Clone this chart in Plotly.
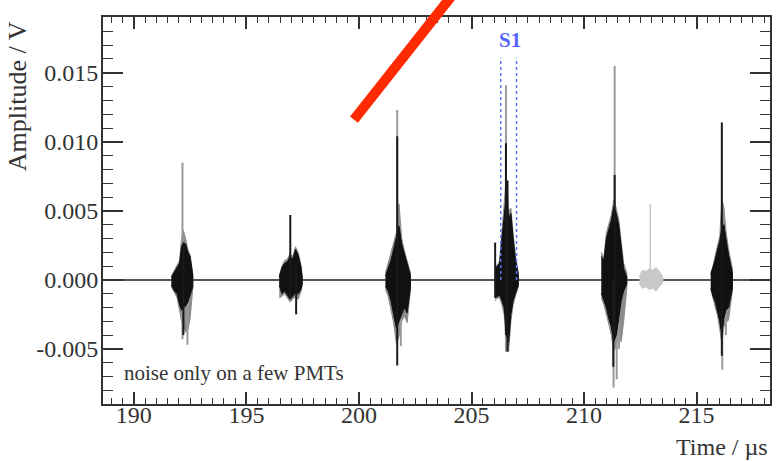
import plotly.graph_objects as go

# ---------------- data ----------------
# Each burst: sample times (µs), upper / lower envelope of the dense black trace (V),
# and upper / lower envelope of the lighter overlapping PMT traces (V).
b1_t   = [191.67, 191.80, 191.92, 192.03, 192.12, 192.20, 192.30, 192.40, 192.50, 192.62]
b1_hi  = [0.0002, 0.0006, 0.0009, 0.0012, 0.0024, 0.0027, 0.0026, 0.0020, 0.0017, 0.0003]
b1_lo  = [-0.0004, -0.0008, -0.0010, -0.0018, -0.0022, -0.0020, -0.0019, -0.0016, -0.0012, -0.0005]
b1_ghi = [0.0003, 0.0007, 0.0010, 0.0014, 0.0030, 0.0036, 0.0030, 0.0022, 0.0018, 0.0004]
b1_glo = [-0.0005, -0.0009, -0.0013, -0.0022, -0.0030, -0.0034, -0.0038, -0.0036, -0.0028, -0.0006]

b2_t   = [196.46, 196.58, 196.70, 196.82, 196.94, 197.06, 197.18, 197.30, 197.42, 197.48]
b2_hi  = [0.0002, 0.0009, 0.0012, 0.0013, 0.0017, 0.0015, 0.0022, 0.0018, 0.0010, 0.0002]
b2_lo  = [-0.0004, -0.0010, -0.0008, -0.0011, -0.0014, -0.0012, -0.0009, -0.0010, -0.0007, -0.0003]
b2_ghi = [0.0003, 0.0010, 0.0014, 0.0015, 0.0019, 0.0017, 0.0024, 0.0020, 0.0011, 0.0003]
b2_glo = [-0.0013, -0.0012, -0.0010, -0.0013, -0.0016, -0.0014, -0.0012, -0.0014, -0.0009, -0.0004]

b3_t   = [201.18, 201.30, 201.42, 201.54, 201.66, 201.78, 201.90, 202.02, 202.14, 202.29]
b3_hi  = [0.0003, 0.0009, 0.0014, 0.0022, 0.0030, 0.0039, 0.0026, 0.0018, 0.0012, 0.0003]
b3_lo  = [-0.0005, -0.0008, -0.0015, -0.0025, -0.0035, -0.0030, -0.0025, -0.0020, -0.0024, -0.0005]
b3_ghi = [0.0005, 0.0012, 0.0018, 0.0026, 0.0034, 0.0055, 0.0030, 0.0021, 0.0014, 0.0005]
b3_glo = [-0.0007, -0.0012, -0.0020, -0.0031, -0.0046, -0.0041, -0.0030, -0.0026, -0.0031, -0.0007]

b4_t   = [206.05, 206.15, 206.25, 206.35, 206.45, 206.55, 206.65, 206.75, 206.85, 206.95, 207.08]
b4_hi  = [0.0008, 0.0010, 0.0012, 0.0030, 0.0045, 0.0062, 0.0045, 0.0048, 0.0030, 0.0015, 0.0004]
b4_lo  = [-0.0013, -0.0012, -0.0011, -0.0015, -0.0020, -0.0040, -0.0045, -0.0025, -0.0015, -0.0010, -0.0004]
b4_ghi = [0.0010, 0.0011, 0.0014, 0.0035, 0.0050, 0.0075, 0.0050, 0.0052, 0.0034, 0.0018, 0.0005]
b4_glo = [-0.0015, -0.0013, -0.0013, -0.0018, -0.0025, -0.0048, -0.0052, -0.0030, -0.0018, -0.0012, -0.0005]

b5_t   = [210.77, 210.88, 210.99, 211.10, 211.21, 211.32, 211.43, 211.54, 211.65, 211.76, 211.90]
b5_hi  = [0.0017, 0.0014, 0.0030, 0.0036, 0.0043, 0.0053, 0.0048, 0.0040, 0.0022, 0.0008, 0.0002]
b5_lo  = [-0.0010, -0.0015, -0.0020, -0.0028, -0.0034, -0.0045, -0.0040, -0.0028, -0.0015, -0.0008, -0.0003]
b5_ghi = [0.0020, 0.0016, 0.0034, 0.0040, 0.0047, 0.0058, 0.0052, 0.0044, 0.0030, 0.0012, 0.0005]
b5_glo = [-0.0013, -0.0018, -0.0024, -0.0032, -0.0040, -0.0052, -0.0048, -0.0040, -0.0045, -0.0030, -0.0006]

# faint burst (PMT with noise only)
b6_t   = [212.46, 212.60, 212.75, 212.90, 213.05, 213.20, 213.35, 213.50]
b6_hi  = [0.0003, 0.0007, 0.0006, 0.0008, 0.0007, 0.0009, 0.0006, 0.0002]
b6_lo  = [-0.0003, -0.0006, -0.0005, -0.0007, -0.0006, -0.0008, -0.0005, -0.0002]

b7_t   = [215.63, 215.73, 215.83, 215.93, 216.03, 216.12, 216.21, 216.30, 216.42, 216.59]
b7_hi  = [0.0004, 0.0009, 0.0015, 0.0022, 0.0028, 0.0038, 0.0040, 0.0030, 0.0018, 0.0005]
b7_lo  = [-0.0006, -0.0012, -0.0016, -0.0022, -0.0030, -0.0040, -0.0028, -0.0022, -0.0020, -0.0006]
b7_ghi = [0.0005, 0.0010, 0.0018, 0.0025, 0.0032, 0.0058, 0.0053, 0.0036, 0.0022, 0.0008]
b7_glo = [-0.0007, -0.0014, -0.0020, -0.0026, -0.0036, -0.0046, -0.0034, -0.0031, -0.0029, -0.0008]

# single-sample spikes: time, top, bottom
spk_gray_t   = [192.16, 192.38, 201.70, 201.86, 206.53, 211.36, 211.31, 211.45, 211.55, 216.14, 216.30]
spk_gray_top = [0.0085, 0.0010, 0.0123, 0.0010, 0.0141, 0.0155, 0.0000, 0.0000, 0.0010, 0.0000, 0.0012]
spk_gray_bot = [-0.0043, -0.0047, -0.0040, -0.0048, -0.0052, -0.0040, -0.0078, -0.0072, -0.0050, -0.0065, -0.0040]
spk_black_t   = [192.20, 196.95, 197.21, 201.70, 206.05, 206.53, 206.60, 211.36, 211.30, 216.12]
spk_black_top = [0.0026, 0.0047, 0.0010, 0.0104, 0.0027, 0.0099, 0.0072, 0.0076, 0.0000, 0.0114]
spk_black_bot = [-0.0040, -0.0013, -0.0025, -0.0062, -0.0013, -0.0040, -0.0052, -0.0040, -0.0063, -0.0055]
spk_faint_t   = [212.94]
spk_faint_top = [0.0055]
spk_faint_bot = [-0.0003]

# S1 window
s1_t = [206.30, 207.00]
s1_top = 0.0161
s1_label_t, s1_label_v = 206.72, 0.01739

# red stroke endpoints (data units)
red_t = [199.78, 204.33]
red_v = [0.0116, 0.0210]

x_range = [188.63, 218.26]
y_range = [-0.00899, 0.01904]
x_ticks = [190, 195, 200, 205, 210, 215]
x_ticklabels = ["190", "195", "200", "205", "210", "215"]
y_ticks = [-0.005, 0.0, 0.005, 0.010, 0.015]
y_ticklabels = ["-0.005", "0.000", "0.005", "0.010", "0.015"]

# ---------------- figure ----------------
FONT = "Liberation Serif"
TXT = "#333333"
fig = go.Figure()

def poly(t, hi, lo, color):
    fig.add_trace(go.Scatter(
        x=list(t) + list(t[::-1]), y=list(hi) + list(lo[::-1]),
        fill="toself", fillcolor=color, mode="lines",
        line=dict(color=color, width=1), hoverinfo="skip", showlegend=False))

def spikes(ts, tops, bots, color, width):
    xs, ys = [], []
    for t, a, b in zip(ts, tops, bots):
        xs += [t, t, None]
        ys += [b, a, None]
    fig.add_trace(go.Scatter(x=xs, y=ys, mode="lines",
                             line=dict(color=color, width=width),
                             hoverinfo="skip", showlegend=False))

for t, ghi, glo in [(b1_t, b1_ghi, b1_glo), (b2_t, b2_ghi, b2_glo), (b3_t, b3_ghi, b3_glo),
                    (b4_t, b4_ghi, b4_glo), (b5_t, b5_ghi, b5_glo), (b7_t, b7_ghi, b7_glo)]:
    poly(t, ghi, glo, "#8c8c8c")
poly(b6_t, b6_hi, b6_lo, "#c8c8c8")
spikes(spk_gray_t, spk_gray_top, spk_gray_bot, "#9a9a9a", 2)
spikes(spk_faint_t, spk_faint_top, spk_faint_bot, "#c8c8c8", 1.5)
for t, hi, lo in [(b1_t, b1_hi, b1_lo), (b2_t, b2_hi, b2_lo), (b3_t, b3_hi, b3_lo),
                  (b4_t, b4_hi, b4_lo), (b5_t, b5_hi, b5_lo), (b7_t, b7_hi, b7_lo)]:
    poly(t, hi, lo, "#111111")
spikes(spk_black_t, spk_black_top, spk_black_bot, "#1a1a1a", 2)

# S1 dotted window lines
for t in s1_t:
    fig.add_trace(go.Scatter(x=[t, t], y=[0, s1_top], mode="lines",
                             line=dict(color="#6070ff", width=1.5, dash="dot"),
                             hoverinfo="skip", showlegend=False))

# red stroke (converted to paper coords so it is not clipped by the plot area)
def px(t):
    return (t - x_range[0]) / (x_range[1] - x_range[0])
def py(v):
    return (v - y_range[0]) / (y_range[1] - y_range[0])
fig.add_shape(type="line", xref="paper", yref="paper",
              x0=px(red_t[0]), y0=py(red_v[0]), x1=px(red_t[1]), y1=py(red_v[1]),
              line=dict(color="#ff2a00", width=10))

axis_common = dict(showline=True, linecolor="#333333", linewidth=2, mirror="ticks",
                   ticks="inside", tickcolor="#333333", tickwidth=1.5,
                   showgrid=False, tickfont=dict(family=FONT, size=24, color=TXT))
fig.update_xaxes(range=x_range, tickvals=x_ticks, ticktext=x_ticklabels, ticklen=12,
                 zeroline=False, ticklabelstandoff=-12,
                 minor=dict(dtick=0.5, tick0=0, ticklen=6, ticks="inside",
                            tickcolor="#333333", tickwidth=1.2),
                 **axis_common)
fig.update_yaxes(range=y_range, tickvals=y_ticks, ticktext=y_ticklabels, ticklen=20,
                 zeroline=True, zerolinecolor="#555555", zerolinewidth=1.5,
                 ticklabelstandoff=-2,
                 minor=dict(dtick=0.001, tick0=0, ticklen=10, ticks="inside",
                            tickcolor="#333333", tickwidth=1.2),
                 **axis_common)

fig.add_annotation(x=s1_label_t, y=s1_label_v, xref="x", yref="y", text="<b>S1</b>",
                   showarrow=False, font=dict(family=FONT, size=21, color="#5566ff"))
fig.add_annotation(x=189.47, y=-0.00674, xref="x", yref="y", xanchor="left",
                   text="noise only on a few PMTs", showarrow=False,
                   font=dict(family=FONT, size=21, color=TXT))
fig.add_annotation(x=1.0, y=-0.112, xref="paper", yref="paper", xanchor="right",
                   yanchor="middle", text="Time / µs", showarrow=False,
                   font=dict(family=FONT, size=24, color=TXT))
fig.add_annotation(x=-0.127, y=0.995, xref="paper", yref="paper", xanchor="center",
                   yanchor="top", text="Amplitude / V", textangle=-90, showarrow=False,
                   font=dict(family=FONT, size=26, color=TXT))

fig.update_layout(width=776, height=461, margin=dict(l=103, r=4, t=17, b=57),
                  paper_bgcolor="white", plot_bgcolor="white", showlegend=False)

fig.write_html("out.html")
